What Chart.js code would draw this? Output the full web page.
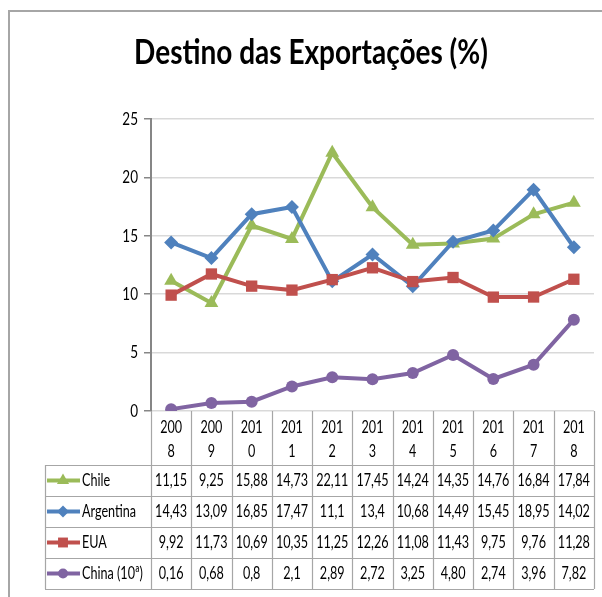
<!DOCTYPE html>
<html>
<head>
<meta charset="utf-8">
<script src="https://cdn.jsdelivr.net/npm/chart.js@4/dist/chart.umd.min.js"></script>
<style>
  html, body { margin: 0; padding: 0; background: #fff; }
  #wrap { width: 602px; height: 597px; }
</style>
</head>
<body>
<div id="wrap"><canvas id="chart"></canvas></div>
<script>
// ── Data ────────────────────────────────────────────────────────────────────
const TITLE = 'Destino das Exportações (%)';
const years = ['2008', '2009', '2010', '2011', '2012', '2013', '2014', '2015', '2016', '2017', '2018'];
const yTicks = [0, 5, 10, 15, 20, 25];

// values as printed in the data table
const chile     = ['11,15', '9,25', '15,88', '14,73', '22,11', '17,45', '14,24', '14,35', '14,76', '16,84', '17,84'];
const argentina = ['14,43', '13,09', '16,85', '17,47', '11,1', '13,4', '10,68', '14,49', '15,45', '18,95', '14,02'];
const eua       = ['9,92', '11,73', '10,69', '10,35', '11,25', '12,26', '11,08', '11,43', '9,75', '9,76', '11,28'];
const china     = ['0,16', '0,68', '0,8', '2,1', '2,89', '2,72', '3,25', '4,80', '2,74', '3,96', '7,82'];

const seriesNames = ['Chile', 'Argentina', 'EUA', 'China (10ª)'];
const seriesText = [chile, argentina, eua, china];
const seriesColors = ['#9BBB59', '#4F81BD', '#C0504D', '#8064A2'];
const seriesPoints = ['triangle', 'rectRot', 'rect', 'circle'];
const seriesRadius = [8, 7, 8, 6];

const toNum = s => parseFloat(s.replace(',', '.'));

// ── Layout bits ─────────────────────────────────────────────────────────────
const TITLE_FONT = 'Lato, "Open Sans", sans-serif';
const FONT = 'Lato, "Open Sans", sans-serif';
const SQUEEZE = 0.7;           // the original picture is narrowed horizontally
const TITLE_SQUEEZE = 0.8;
const TABLE_LEFT = 45;
const HEADER_H = 54;
const ROW_H = 31;
const GRID_LINE = '#a6a6a6';

// draw text narrowed horizontally around its anchor
function narrowText(ctx, text, x, y, sx) {
    ctx.save();
    ctx.translate(x, y);
    ctx.scale(sx, 1);
    ctx.fillText(text, 0, 0);
    ctx.restore();
}

const tablePlugin = {
    id: 'dataTable',
    afterDraw(chart) {
        const ctx = chart.ctx;
        const area = chart.chartArea;
        const xs = chart.scales.x;
        const ys = chart.scales.y;
        const colW = area.width / years.length;
        const top = area.bottom;
        const headBottom = top + HEADER_H;
        const bottom = headBottom + ROW_H * seriesNames.length;

        ctx.save();

        // outer chart frame
        ctx.strokeStyle = GRID_LINE;
        ctx.lineWidth = 2;
        ctx.beginPath();
        ctx.moveTo(9, chart.height);
        ctx.lineTo(9, 11);
        ctx.lineTo(chart.width, 11);
        ctx.stroke();

        // title
        ctx.fillStyle = '#000';
        ctx.font = 'bold 35px ' + TITLE_FONT;
        ctx.textAlign = 'center';
        ctx.textBaseline = 'alphabetic';
        narrowText(ctx, TITLE, 311, 64, TITLE_SQUEEZE);

        // y tick labels
        ctx.font = '18px ' + FONT;
        ctx.textAlign = 'right';
        ctx.textBaseline = 'middle';
        yTicks.forEach(v => narrowText(ctx, String(v), 138, ys.getPixelForValue(v), SQUEEZE + 0.05));

        // table grid
        ctx.strokeStyle = GRID_LINE;
        ctx.lineWidth = 1.2;
        ctx.beginPath();
        for (let i = 0; i <= years.length; i++) {
            const x = Math.round(area.left + colW * i) + 0.5;
            ctx.moveTo(x, top);
            ctx.lineTo(x, bottom);
        }
        for (let r = 0; r <= seriesNames.length; r++) {
            const y = Math.round(headBottom + ROW_H * r) + 0.5;
            ctx.moveTo(TABLE_LEFT, y);
            ctx.lineTo(area.right, y);
        }
        ctx.moveTo(TABLE_LEFT + 0.5, headBottom);
        ctx.lineTo(TABLE_LEFT + 0.5, bottom);
        ctx.stroke();

        // header: year split over two lines like the wrapped Excel labels
        ctx.fillStyle = '#000';
        ctx.font = '18px ' + FONT;
        ctx.textAlign = 'center';
        ctx.textBaseline = 'middle';
        years.forEach((yr, i) => {
            const cx = xs.getPixelForValue(i);
            narrowText(ctx, yr.slice(0, 3), cx, top + 16, SQUEEZE);
            narrowText(ctx, yr.slice(3), cx, top + 40, SQUEEZE);
        });

        // rows
        seriesNames.forEach((name, r) => {
            const cy = headBottom + ROW_H * r + ROW_H / 2;

            // legend key
            ctx.strokeStyle = seriesColors[r];
            ctx.lineWidth = 4;
            ctx.beginPath();
            ctx.moveTo(47, cy);
            ctx.lineTo(80, cy);
            ctx.stroke();
            ctx.fillStyle = seriesColors[r];
            Chart.helpers.drawPoint(ctx, {
                pointStyle: seriesPoints[r],
                radius: seriesRadius[r] - 1,
                rotation: 0,
                borderWidth: 0
            }, 63, cy);

            ctx.fillStyle = '#000';
            ctx.textAlign = 'left';
            narrowText(ctx, name, 82, cy, SQUEEZE);

            ctx.textAlign = 'center';
            seriesText[r].forEach((txt, i) => {
                narrowText(ctx, txt, xs.getPixelForValue(i), cy, SQUEEZE);
            });
        });

        ctx.restore();
    }
};

// ── Chart ───────────────────────────────────────────────────────────────────
const datasets = seriesNames.map((name, i) => ({
    label: name,
    data: seriesText[i].map(toNum),
    borderColor: seriesColors[i],
    backgroundColor: seriesColors[i],
    pointBackgroundColor: seriesColors[i],
    pointBorderColor: seriesColors[i],
    pointStyle: seriesPoints[i],
    pointRadius: seriesRadius[i],
    pointBorderWidth: 0,
    borderWidth: 4,
    tension: 0,
    order: seriesNames.length - i
}));

new Chart(document.getElementById('chart'), {
    type: 'line',
    data: { labels: years, datasets: datasets },
    options: {
        responsive: true,
        maintainAspectRatio: false,
        animation: false,
        events: [],
        layout: { padding: { left: 0, right: 4, top: 119, bottom: 186 } },
        plugins: {
            legend: { display: false },
            title: { display: false },
            tooltip: { enabled: false }
        },
        scales: {
            x: {
                type: 'category',
                display: false,
                offset: true
            },
            y: {
                min: yTicks[0],
                max: yTicks[yTicks.length - 1],
                afterBuildTicks: axis => { axis.ticks = yTicks.map(v => ({ value: v })); },
                afterFit: axis => { axis.width = 151; },
                border: { color: '#868686', width: 2 },
                grid: { color: '#d9d9d9', lineWidth: 1.5, tickLength: 7, tickColor: '#868686' },
                // labels are drawn narrowed by the plugin
                ticks: { color: 'rgba(0,0,0,0)', padding: 5, font: { family: FONT, size: 16 } }
            }
        }
    },
    plugins: [tablePlugin]
});
</script>
</body>
</html>
